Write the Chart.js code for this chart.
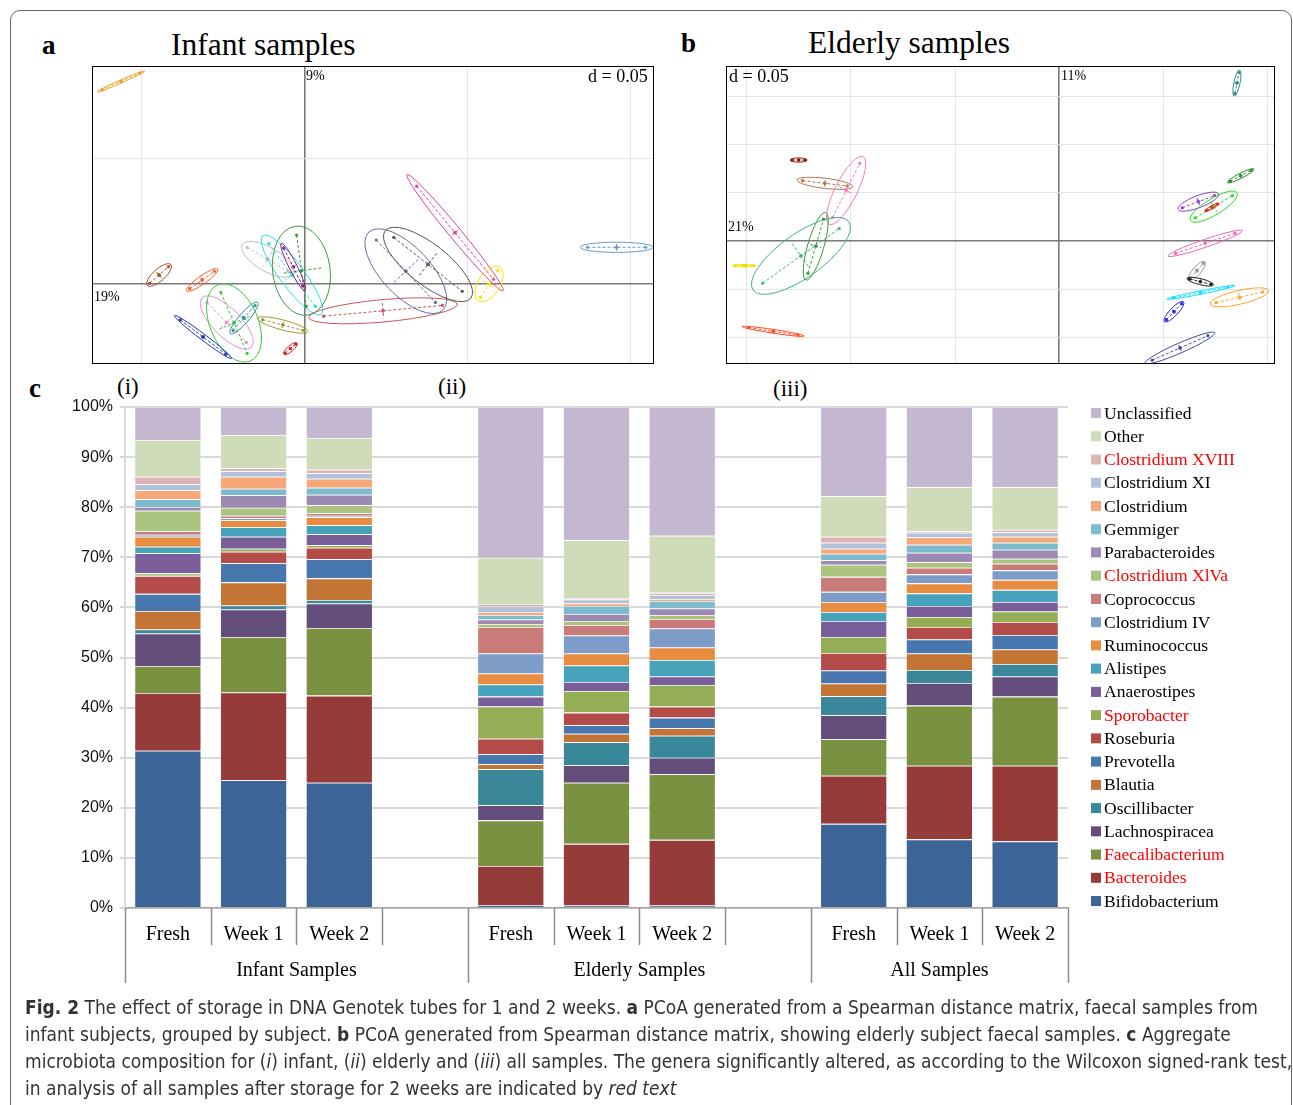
<!DOCTYPE html>
<html>
<head>
<meta charset="utf-8">
<script src="https://cdn.jsdelivr.net/npm/chart.js@4.4.1/dist/chart.umd.min.js"></script>
<style>
  body { margin: 0; background: #fff; width: 1293px; height: 1105px; overflow: hidden; position: relative; font-family: "Liberation Serif", serif; }
  .abs { position: absolute; white-space: nowrap; }
  #frame { position: absolute; left: 10px; top: 10px; width: 1280px; height: 1120px; border: 1.5px solid #666; border-radius: 10px; }
  .box { position: absolute; border: 1px solid #000; box-sizing: border-box; }
  .lbl { font-weight: bold; font-size: 27px; }
  .ttl { font-size: 31.5px; }
  .sub { font-size: 23px; }
  .pct { font-size: 14px; }
  .dd { font-size: 18px; }
  #caption { position: absolute; left: 25px; top: 994px; font-family: "Liberation Sans Narrow", "DejaVu Sans Condensed", sans-serif; font-size: 19.5px; line-height: 27px; color: #333; white-space: nowrap; transform-origin: 0 0; }
  #caption span { display: inline-block; }
</style>
</head>
<body>
<div id="frame"></div>

<div class="abs lbl" style="left:42px; top:30px;">a</div>
<div class="abs ttl" style="left:171px; top:27px;">Infant samples</div>
<div class="abs lbl" style="left:681px; top:28px;">b</div>
<div class="abs ttl" style="left:808px; top:25px;">Elderly samples</div>
<div class="abs lbl" style="left:29px; top:373px;">c</div>
<div class="abs sub" style="left:117px; top:374px;">(i)</div>
<div class="abs sub" style="left:438px; top:374px;">(ii)</div>
<div class="abs sub" style="left:773px; top:376px;">(iii)</div>

<div class="box" style="left:92px; top:66px; width:562px; height:298px;"><canvas id="infant" width="560" height="296"></canvas></div>
<div class="box" style="left:726px; top:66px; width:549px; height:298px;"><canvas id="elderly" width="547" height="296"></canvas></div>

<div class="abs pct" style="left:306px; top:68px;">9%</div>
<div class="abs dd" style="left:588px; top:66px;">d = 0.05</div>
<div class="abs pct" style="left:94px; top:289px;">19%</div>
<div class="abs dd" style="left:729px; top:66px;">d = 0.05</div>
<div class="abs pct" style="left:1061px; top:68px;">11%</div>
<div class="abs pct" style="left:728px; top:219px;">21%</div>

<div class="abs" style="left:0; top:380px;"><canvas id="bars" width="1293" height="620"></canvas></div>

<div id="caption"><span id="cap1"><b>Fig. 2</b> The effect of storage in DNA Genotek tubes for 1 and 2 weeks. <b>a</b> PCoA generated from a Spearman distance matrix, faecal samples from</span><br><span>infant subjects, grouped by subject. <b>b</b> PCoA generated from Spearman distance matrix, showing elderly subject faecal samples. <b>c</b> Aggregate</span><br><span>microbiota composition for (<i>i</i>) infant, (<i>ii</i>) elderly and (<i>iii</i>) all samples. The genera significantly altered, as according to the Wilcoxon signed-rank test,</span><br><span>in analysis of all samples after storage for 2 weeks are indicated by <i>red text</i></span></div>

<script>
// PCoA groups: [centre x, centre y, half major axis dx, dy, minor/major ratio]
const infantGroups = [
  [-0.0563, 0.0810, 0.00727, 0.00416, 0.06],
  [-0.0446, 0.0036, 0.00362, 0.0042, 0.38],
  [-0.0314, 0.0016, 0.00475, 0.00436, 0.22],
  [-0.01135, 0.0099, 0.00773, -0.00588, 0.41],
  [-0.00383, 0.0036, 0.00896, -0.01572, 0.25],
  [-0.00095, 0.00532, 0.00184, -0.0178, 0.64],
  [-0.00347, 0.0068, 0.00365, -0.00948, 0.15],
  [-0.02386, -0.0154, 0.00754, -0.00992, 0.40],
  [-0.02162, -0.01556, 0.00503, -0.01524, 0.58],
  [-0.01856, -0.0136, 0.0042, 0.00624, 0.24],
  [-0.03113, -0.0212, 0.00874, -0.0086, 0.085],
  [-0.00666, -0.0164, 0.00773, -0.00268, 0.19],
  [-0.00432, -0.02584, 0.00202, 0.0022, 0.35],
  [0.02408, -0.01072, 0.02279, 0.00268, 0.15],
  [0.03107, 0.00512, 0.01135, -0.0156, 0.45],
  [0.03788, 0.00784, 0.01313, -0.01348, 0.37],
  [0.04616, 0.02052, 0.01472, -0.02324, 0.08],
  [0.05659, 0.0, 0.00337, 0.00668, 0.55],
  [0.09572, 0.01468, 0.01116, 0.0, 0.14]
];
const infantColors = ['#f0a028', '#a0522d', '#ff5a2a', '#bdbdbd', '#22e0f0', '#3c9a3c', '#8a1a8a',
  '#ee88dd', '#33cc33', '#2a9090', '#2233cc', '#9a9a30', '#e02020', '#cc5555', '#6a6aaa',
  '#555555', '#e0409a', '#f2e600', '#6a9ac8'];

const elderlyGroups = [
  [0.0853, 0.1635, 0.0013, 0.01346, 0.23],
  [-0.1251, 0.0838, 0.00403, 0, 0.25],
  [-0.1125, 0.0597, 0.01344, -0.00342, 0.18],
  [-0.1023, 0.0523, 0.00816, 0.035, 0.29],
  [-0.124, -0.0154, 0.023, 0.0354, 0.37],
  [-0.1169, -0.0054, 0.0047, 0.035, 0.23],
  [-0.1512, -0.0256, 0.0056, 0, 0.1],
  [-0.1373, -0.0935, 0.01483, -0.00486, 0.06],
  [0.0871, 0.0675, 0.00634, 0.00704, 0.17],
  [0.0668, 0.0407, 0.0097, 0.00797, 0.28],
  [0.0742, 0.0355, 0.01118, 0.01449, 0.30],
  [0.0733, 0.0349, 0.00336, 0.00414, 0.2],
  [0.0701, -0.0024, 0.01786, 0.01314, 0.1],
  [0.0661, -0.0308, 0.00384, 0.00952, 0.33],
  [0.0677, -0.0421, 0.00643, -0.00342, 0.22],
  [0.0679, -0.0533, 0.01632, 0.00704, 0.05],
  [0.0865, -0.0583, 0.014, 0.00693, 0.23],
  [0.0551, -0.0732, 0.00456, 0.01035, 0.29],
  [0.058, -0.1107, 0.01675, 0.01584, 0.13]
];
const elderlyColors = ['#2a8c8c', '#8b1a1a', '#b5744a', '#ff77bb', '#3cb48c', '#3a9a3a', '#f0e000',
  '#ff4a22', '#2a8a2a', '#9a3acc', '#22dd22', '#ee2222', '#ee66b0', '#999999', '#222222',
  '#10e0ff', '#ffa428', '#2a2aee', '#4a4aaa'];

// stacked composition, bottom to top
const genera = ['Bifidobacterium', 'Bacteroides', 'Faecalibacterium', 'Lachnospiracea', 'Oscillibacter',
  'Blautia', 'Prevotella', 'Roseburia', 'Sporobacter', 'Anaerostipes', 'Alistipes', 'Ruminococcus',
  'Clostridium IV', 'Coprococcus', 'Clostridium XlVa', 'Parabacteroides', 'Gemmiger', 'Clostridium',
  'Clostridium XI', 'Clostridium XVIII', 'Other', 'Unclassified'];
const significant = ['Bacteroides', 'Faecalibacterium', 'Sporobacter', 'Clostridium XlVa', 'Clostridium XVIII'];
const generaColors = ['#3c6496', '#953b39', '#7a9142', '#634d7b', '#3a8799', '#c27535', '#4877b0',
  '#b34b49', '#93ae55', '#7a5e99', '#47a3bb', '#e88c41', '#7e9cc8', '#c97b7a', '#abc47f', '#9c89b4',
  '#7dbace', '#f7a878', '#b2c1dc', '#ddb3b3', '#d0dbba', '#c3b8d0'];

const infantFresh  = [31.4, 11.5, 5.4, 6.5, 0.8, 3.7, 3.4, 3.6, 0.5, 4.0, 1.3, 2.0, 0.4, 0.7, 4.1, 0.7, 1.6, 1.8, 1.2, 1.5, 7.3, 6.6];
const infantWeek1  = [25.5, 17.5, 11.1, 5.5, 0.8, 4.6, 3.8, 2.3, 0.6, 2.4, 1.9, 1.4, 0.4, 0.5, 1.6, 2.5, 1.3, 2.4, 1.1, 0.6, 6.6, 5.6];
const infantWeek2  = [25.0, 17.4, 13.5, 4.9, 0.7, 4.3, 3.8, 2.3, 0.5, 2.2, 1.8, 1.6, 0.3, 0.5, 1.6, 2.1, 1.4, 1.8, 1.1, 0.7, 6.3, 6.2];
const elderlyFresh = [0.6, 7.8, 9.1, 3.0, 7.2, 1.0, 2.0, 3.1, 6.4, 2.0, 2.4, 2.2, 4.0, 5.3, 0.6, 0.9, 0.9, 0.6, 1.1, 0.5, 9.2, 30.1];
const elderlyWeek1 = [0.5, 12.3, 12.2, 3.5, 4.6, 1.7, 1.7, 2.5, 4.3, 1.8, 3.3, 2.4, 3.6, 2.1, 0.8, 1.4, 1.6, 0.5, 0.8, 0.3, 11.5, 26.6];
const elderlyWeek2 = [0.5, 13.1, 13.1, 3.3, 4.4, 1.5, 2.1, 2.2, 4.3, 1.7, 3.3, 2.5, 3.8, 1.9, 0.8, 1.3, 1.5, 0.4, 0.8, 0.4, 11.4, 25.7];
const allFresh     = [16.8, 9.6, 7.3, 4.8, 3.8, 2.5, 2.6, 3.5, 3.2, 3.2, 1.8, 2.0, 2.0, 3.0, 2.4, 0.9, 1.3, 1.0, 1.2, 1.2, 8.1, 17.8];
const allWeek1     = [13.7, 14.7, 12.0, 4.5, 2.6, 3.3, 2.8, 2.5, 2.0, 2.2, 2.5, 2.0, 1.8, 1.3, 1.1, 1.9, 1.6, 1.5, 0.9, 0.3, 8.8, 16.0];
const allWeek2     = [13.3, 15.1, 13.8, 4.0, 2.5, 2.9, 2.9, 2.6, 2.1, 1.9, 2.4, 2.0, 1.9, 1.3, 1.0, 1.8, 1.4, 1.2, 0.9, 0.5, 8.5, 16.0];

const sampleLabels = ['Fresh', 'Week 1', 'Week 2', '', 'Fresh', 'Week 1', 'Week 2', '', 'Fresh', 'Week 1', 'Week 2'];
const groupLabels = ['Infant Samples', 'Elderly Samples', 'All Samples'];
const groupBounds = [[-0.5, 3.5], [3.5, 7.5], [7.5, 10.5]];
const samples = [infantFresh, infantWeek1, infantWeek2, null, elderlyFresh, elderlyWeek1, elderlyWeek2, null, allFresh, allWeek1, allWeek2];

// caption: squeeze to the narrow width of the original typeface
const cap = document.getElementById('caption');
const w1 = document.getElementById('cap1').getBoundingClientRect().width;
cap.style.transform = 'scaleX(' + (1233 / w1) + ')';

// ---- PCoA panels ----
const ellipsePlugin = {
  id: 'ellipses',
  afterDatasetsDraw(chart) {
    const { ctx } = chart;
    const x = chart.scales.x, y = chart.scales.y;
    chart.data.datasets.forEach(ds => {
      const g = ds.group;
      const cx = x.getPixelForValue(g[0]), cy = y.getPixelForValue(g[1]);
      const ux = x.getPixelForValue(g[0] + g[2]) - cx;
      const uy = y.getPixelForValue(g[1] + g[3]) - cy;
      const a = Math.hypot(ux, uy), b = a * g[4];
      const vx = -uy / a * b, vy = ux / a * b;
      ctx.save();
      ctx.strokeStyle = ds.borderColor;
      ctx.fillStyle = ds.borderColor;
      ctx.lineWidth = 1;
      ctx.beginPath();
      ctx.ellipse(cx, cy, a, Math.max(b, 0.8), Math.atan2(uy, ux), 0, Math.PI * 2);
      ctx.stroke();
      ctx.setLineDash([3, 2]);
      ctx.beginPath();
      ctx.moveTo(cx - ux * 0.8, cy - uy * 0.8); ctx.lineTo(cx + ux * 0.8, cy + uy * 0.8);
      ctx.moveTo(cx - vx * 0.7, cy - vy * 0.7); ctx.lineTo(cx + vx * 0.7, cy + vy * 0.7);
      ctx.stroke();
      ctx.setLineDash([]);
      [-0.8, 0.8].forEach(s => {
        ctx.beginPath();
        ctx.arc(cx + ux * s, cy + uy * s, 1.6, 0, Math.PI * 2);
        ctx.fill();
      });
      ctx.restore();
    });
  }
};

function pcoaScale(min, max) {
  return {
    type: 'linear', min: min, max: max,
    afterFit: s => { if (s.isHorizontal()) s.height = 0; else s.width = 0; },
    ticks: { display: false, stepSize: 0.05, includeBounds: false },
    grid: {
      drawTicks: false,
      color: c => Math.abs(c.tick.value) < 1e-9 ? '#7a7a7a' : '#e4e4e4',
      lineWidth: c => Math.abs(c.tick.value) < 1e-9 ? 1.6 : 1
    },
    border: { display: false }
  };
}

function pcoaChart(id, groups, colors, xr, yr) {
  new Chart(document.getElementById(id), {
    type: 'scatter',
    data: {
      datasets: groups.map((g, i) => ({
        data: [{ x: g[0], y: g[1] }],
        group: g,
        borderColor: colors[i],
        backgroundColor: colors[i],
        pointRadius: 1.4
      }))
    },
    options: {
      responsive: false,
      animation: false,
      layout: { padding: 0, autoPadding: false },
      plugins: { legend: { display: false }, tooltip: { enabled: false } },
      scales: { x: pcoaScale(xr[0], xr[1]), y: pcoaScale(yr[0], yr[1]) }
    },
    plugins: [ellipsePlugin]
  });
}

pcoaChart('infant', infantGroups, infantColors, [-0.06487, 0.10688], [-0.0316, 0.0868]);
pcoaChart('elderly', elderlyGroups, elderlyColors, [-0.1595, 0.1031], [-0.1263, 0.1801]);

// ---- stacked composition ----
const axisDecor = {
  id: 'axisDecor',
  afterDraw(chart) {
    const { ctx } = chart;
    const x = chart.scales.x;
    const base = chart.chartArea.bottom;
    ctx.save();
    ctx.strokeStyle = '#8c8c8c';
    ctx.lineWidth = 1.5;
    const longs = [-0.5, 3.5, 7.5, 10.5];
    for (let i = 0; i <= sampleLabels.length; i++) {
      const v = i - 0.5;
      const px = Math.round(x.getPixelForValue(v)) + 0.5;
      ctx.beginPath();
      ctx.moveTo(px, base);
      ctx.lineTo(px, base + (longs.includes(v) ? 75 : 37));
      ctx.stroke();
    }
    ctx.fillStyle = '#000';
    ctx.font = '20px "Liberation Serif", serif';
    ctx.textAlign = 'center';
    ctx.textBaseline = 'middle';
    groupLabels.forEach((g, i) => {
      const mid = (x.getPixelForValue(groupBounds[i][0]) + x.getPixelForValue(groupBounds[i][1])) / 2;
      ctx.fillText(g, mid, base + 63);
    });
    // legend, top entry = top of stack
    ctx.font = '17.5px "Liberation Serif", serif';
    ctx.textAlign = 'left';
    const n = genera.length;
    for (let k = 0; k < n; k++) {
      const idx = n - 1 - k;
      const yy = 33 + k * 23.24;
      ctx.fillStyle = generaColors[idx];
      ctx.fillRect(1091, yy - 5, 10, 10);
      ctx.fillStyle = significant.includes(genera[idx]) ? '#ff0000' : '#000';
      ctx.fillText(genera[idx], 1104, yy + 1);
    }
    ctx.restore();
  }
};

new Chart(document.getElementById('bars'), {
  type: 'bar',
  data: {
    labels: sampleLabels,
    datasets: genera.map((g, i) => ({
      label: g,
      data: samples.map(s => s ? s[i] : null),
      backgroundColor: generaColors[i],
      borderColor: 'rgba(255,255,255,0.45)',
      borderWidth: 0.8,
      barPercentage: 0.78,
      categoryPercentage: 1
    }))
  },
  options: {
    responsive: false,
    animation: false,
    layout: { padding: { top: 27, right: 225, left: 0, bottom: 0 } },
    plugins: { legend: { display: false }, tooltip: { enabled: false } },
    scales: {
      x: {
        stacked: true,
        afterFit: s => { s.height = 92; },
        grid: { drawOnChartArea: false, drawTicks: false },
        border: { display: true, color: '#a6a6a6', width: 1.5 },
        ticks: { autoSkip: false, maxRotation: 0, padding: 15, color: '#000', font: { family: '"Liberation Serif", serif', size: 20 } }
      },
      y: {
        stacked: true,
        min: 0, max: 100,
        afterFit: s => { s.width = 125; },
        grid: { color: '#d9d9d9', lineWidth: 2, tickLength: 5 },
        border: { display: true, color: '#d9d9d9', width: 2 },
        ticks: { stepSize: 10, padding: 7, color: '#111', font: { family: '"Liberation Sans", Arial, sans-serif', size: 16 }, callback: v => v + '%' }
      }
    }
  },
  plugins: [axisDecor]
});
</script>
</body>
</html>
